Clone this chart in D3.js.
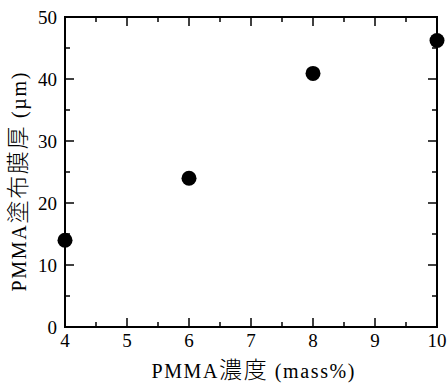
<!DOCTYPE html>
<html>
<head>
<meta charset="utf-8">
<script src="https://cdn.jsdelivr.net/npm/d3@7"></script>
<style>
body { margin: 0; background: #fff; }
text { font-family: "Liberation Serif", "Times New Roman", serif; fill: #000; }
.cjk { font-family: "Noto Sans CJK JP", sans-serif; font-weight: 300; font-size: 23px; }
</style>
</head>
<body>
<svg id="chart" width="448" height="385"></svg>
<script>
// データ
var concentration = [4, 6, 8, 10];          // PMMA濃度 (mass%)
var thickness = [14, 24, 40.9, 46.2];       // 塗布膜厚 (µm)
var xTickValues = [4, 5, 6, 7, 8, 9, 10];
var yTickValues = [0, 10, 20, 30, 40, 50];

var svg = d3.select("#chart");
// 描画領域（top は window.top と衝突するので別名）
var pLeft = 65, pRight = 437, pTop = 17, pBottom = 327;

var x = d3.scaleLinear().domain([4, 10]).range([pLeft, pRight]);
var y = d3.scaleLinear().domain([0, 50]).range([pBottom, pTop]);

var xMinor = d3.range(4.5, 10, 1);
var yMinor = d3.range(5, 50, 10);

var g = svg.append("g");

// 目盛り（内向き、四辺）
function ticks(vals, len, isX) {
	vals.forEach(function (v) {
		if (isX) {
			g.append("line").attr("x1", x(v)).attr("x2", x(v))
				.attr("y1", pBottom).attr("y2", pBottom - len)
				.attr("stroke", "#000").attr("stroke-width", 1.5);
			g.append("line").attr("x1", x(v)).attr("x2", x(v))
				.attr("y1", pTop).attr("y2", pTop + len)
				.attr("stroke", "#000").attr("stroke-width", 1.5);
		} else {
			g.append("line").attr("y1", y(v)).attr("y2", y(v))
				.attr("x1", pLeft).attr("x2", pLeft + len)
				.attr("stroke", "#000").attr("stroke-width", 1.5);
			g.append("line").attr("y1", y(v)).attr("y2", y(v))
				.attr("x1", pRight).attr("x2", pRight - len)
				.attr("stroke", "#000").attr("stroke-width", 1.5);
		}
	});
}
ticks(xTickValues, 9, true);
ticks(xMinor, 5, true);
ticks(yTickValues, 9, false);
ticks(yMinor, 5, false);

// 枠
g.append("rect")
	.attr("x", pLeft).attr("y", pTop)
	.attr("width", pRight - pLeft).attr("height", pBottom - pTop)
	.attr("fill", "none").attr("stroke", "#000").attr("stroke-width", 2);

// 目盛りラベル
g.selectAll(".xl").data(xTickValues).enter().append("text")
	.attr("x", function (d) { return x(d); })
	.attr("y", 347)
	.attr("text-anchor", "middle")
	.style("font-size", "19px")
	.text(function (d) { return d; });

g.selectAll(".yl").data(yTickValues).enter().append("text")
	.attr("x", 57)
	.attr("y", function (d) { return y(d) + 7; })
	.attr("text-anchor", "end")
	.style("font-size", "19px")
	.text(function (d) { return d; });

// 軸タイトル（和文部分は別フォント）
function axisTitle(sel, pre, jp, post) {
	sel.append("tspan").text(pre);
	sel.append("tspan").attr("class", "cjk").text(jp);
	sel.append("tspan").text(post);
}

var xt = svg.append("text")
	.attr("x", 253)
	.attr("y", 378)
	.attr("text-anchor", "middle")
	.attr("textLength", 203)
	.attr("lengthAdjust", "spacing")
	.style("font-size", "20px");
axisTitle(xt, "PMMA", "濃度", " (mass%)");

var yt = svg.append("text")
	.attr("transform", "translate(26,182) rotate(-90)")
	.attr("text-anchor", "middle")
	.attr("textLength", 219)
	.attr("lengthAdjust", "spacing")
	.style("font-size", "20px");
axisTitle(yt, "PMMA", "塗布膜厚", " (µm)");

// データ点
g.selectAll("circle").data(concentration).enter().append("circle")
	.attr("cx", function (d) { return x(d); })
	.attr("cy", function (d, i) { return y(thickness[i]); })
	.attr("r", 7.5)
	.attr("fill", "#000");
</script>
</body>
</html>
